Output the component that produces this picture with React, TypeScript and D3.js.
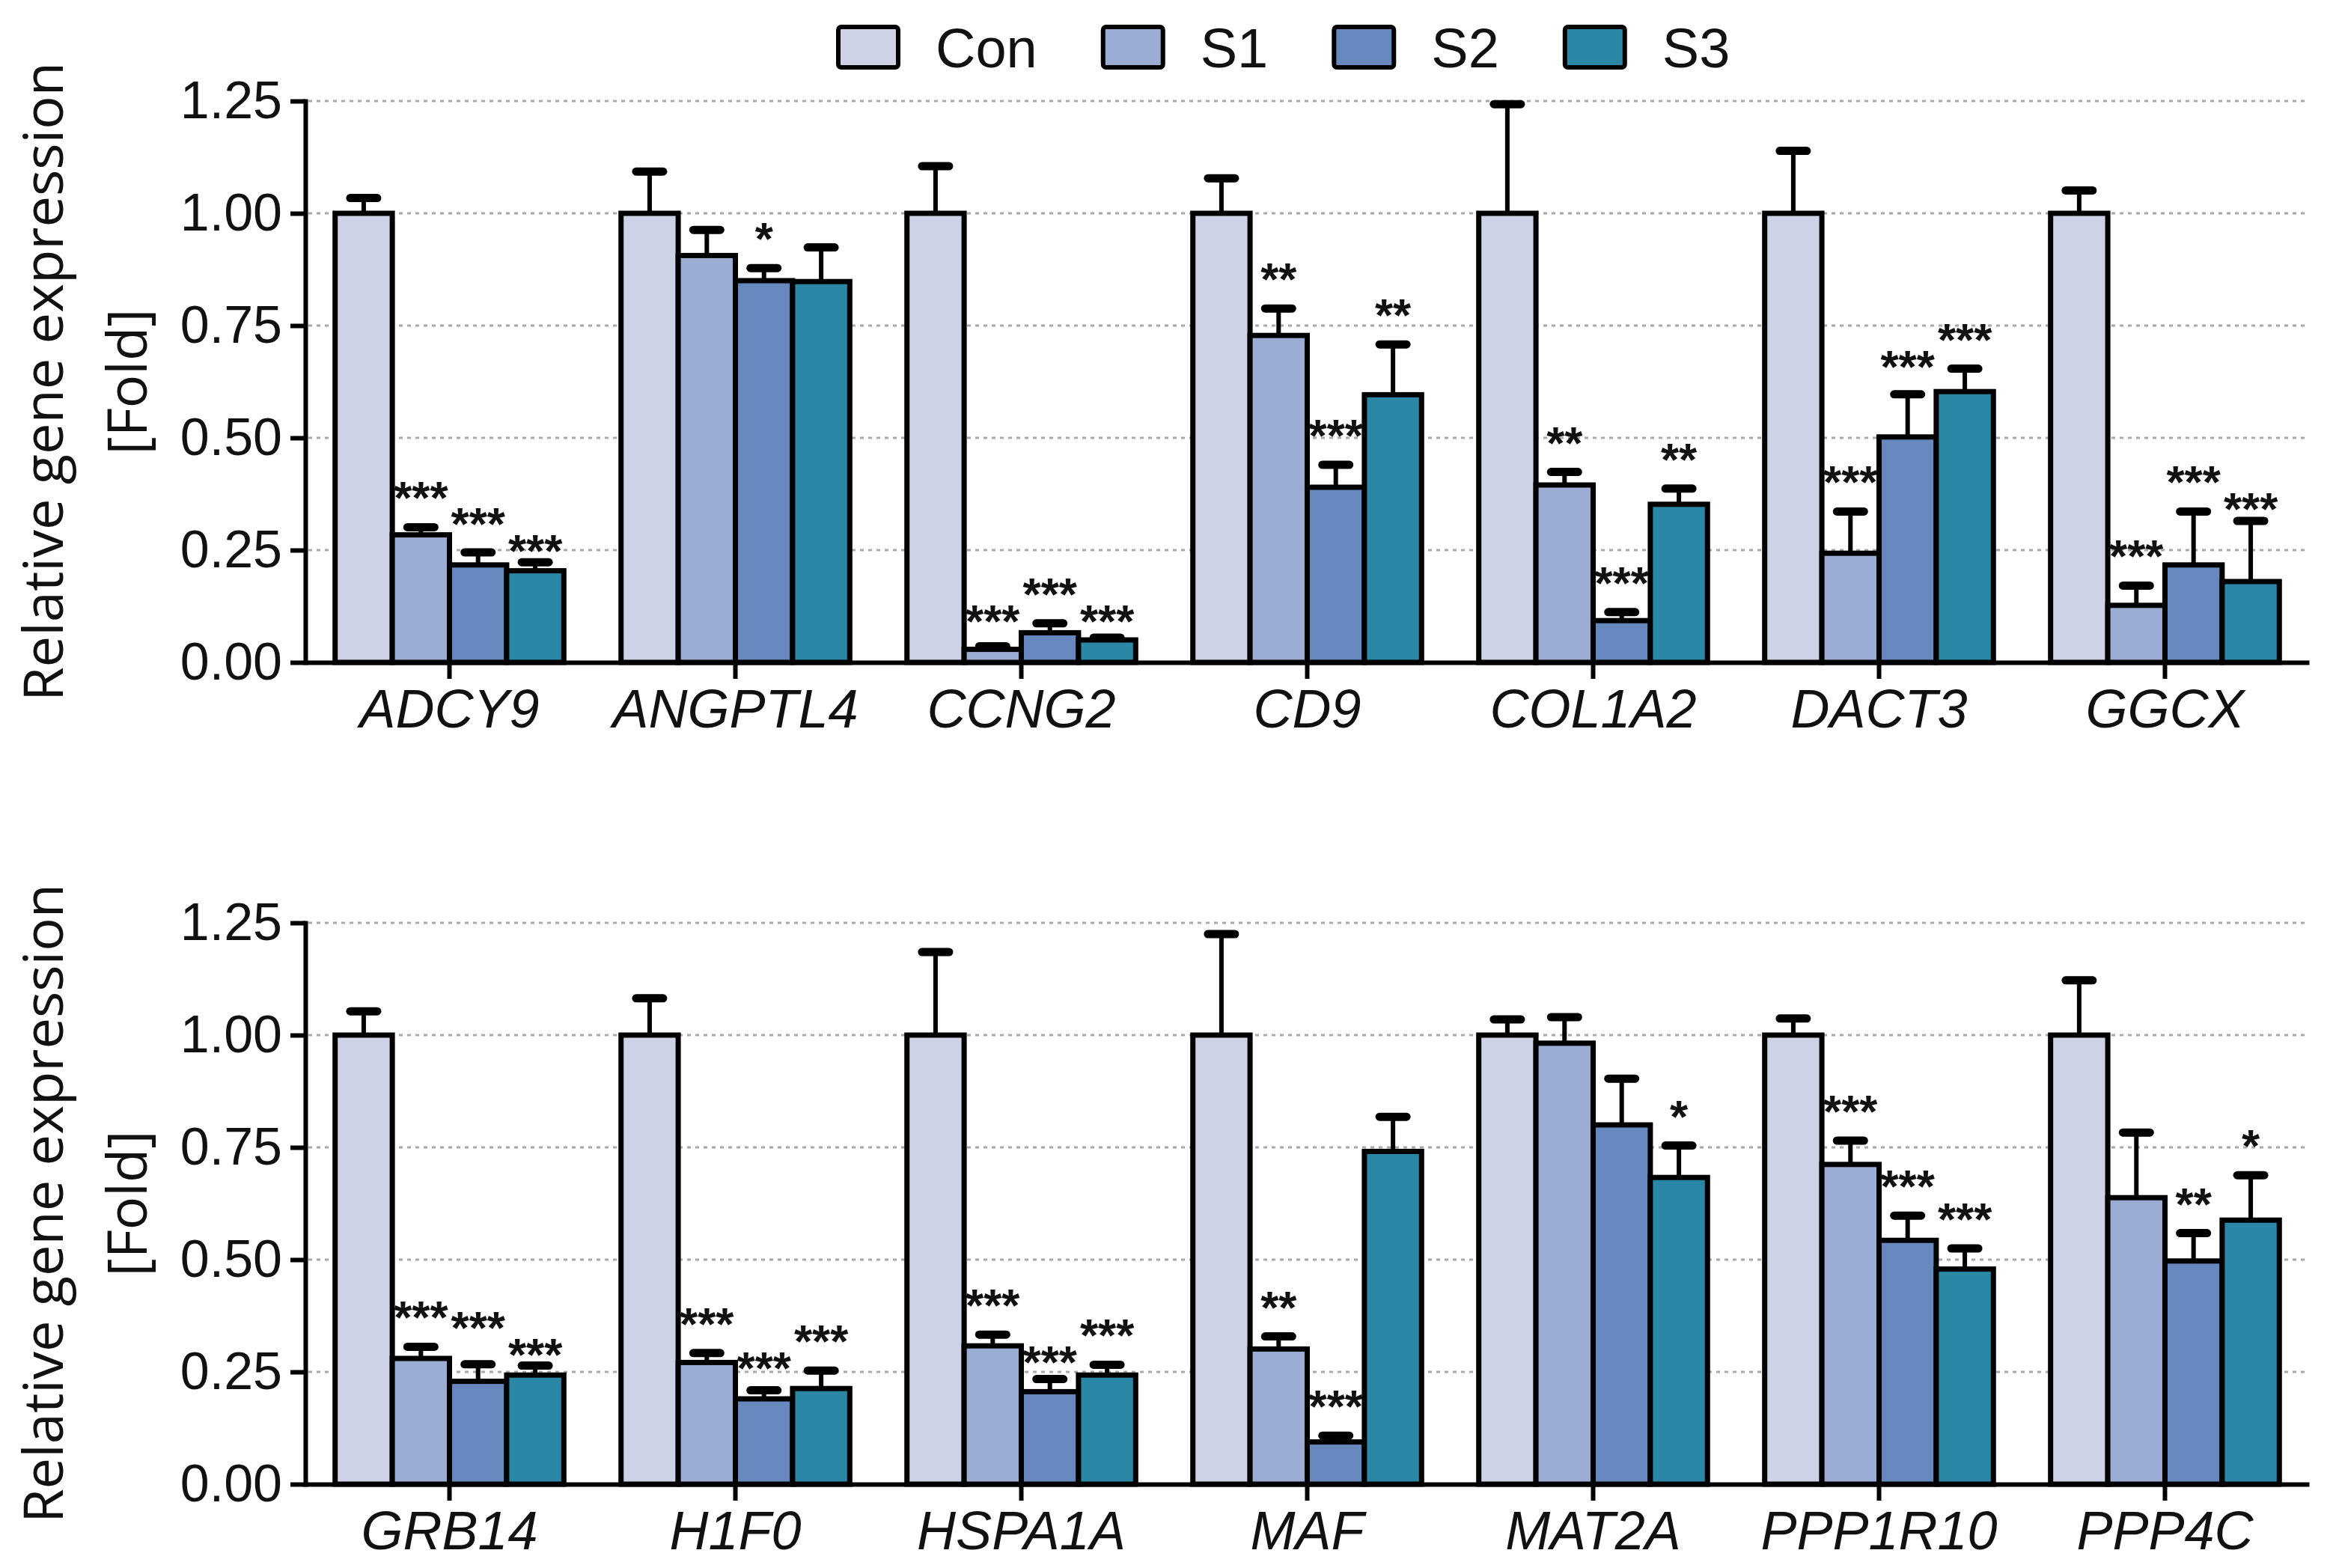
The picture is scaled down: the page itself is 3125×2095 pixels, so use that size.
import { useEffect, useRef } from 'react';
import * as d3 from 'd3';

const series = ['Con', 'S1', 'S2', 'S3'];
const seriesColors = ['#cdd2e7', '#9badd3', '#6688bd', '#2a88a6'];
const yTicks = [0, 0.25, 0.5, 0.75, 1.0, 1.25];

// top panel
const topGenes = ['ADCY9', 'ANGPTL4', 'CCNG2', 'CD9', 'COL1A2', 'DACT3', 'GGCX'];
const topCon = [1.0, 1.0, 1.0, 1.0, 1.0, 1.0, 1.0];
const topS1 = [0.284, 0.906, 0.029, 0.728, 0.395, 0.243, 0.127];
const topS2 = [0.217, 0.85, 0.066, 0.39, 0.093, 0.502, 0.217];
const topS3 = [0.204, 0.848, 0.05, 0.596, 0.352, 0.603, 0.18];
const topConErr = [0.034, 0.093, 0.105, 0.078, 0.243, 0.139, 0.051];
const topS1Err = [0.017, 0.057, 0.007, 0.06, 0.029, 0.093, 0.044];
const topS2Err = [0.028, 0.028, 0.021, 0.05, 0.019, 0.095, 0.119];
const topS3Err = [0.019, 0.076, 0.005, 0.112, 0.035, 0.051, 0.135];
const topSig = [
  ['', '***', '***', '***'],
  ['', '', '*', ''],
  ['', '***', '***', '***'],
  ['', '**', '***', '**'],
  ['', '**', '***', '**'],
  ['', '***', '***', '***'],
  ['', '***', '***', '***'],
];

// bottom panel
const bottomGenes = ['GRB14', 'H1F0', 'HSPA1A', 'MAF', 'MAT2A', 'PPP1R10', 'PPP4C'];
const bottomCon = [1.0, 1.0, 1.0, 1.0, 1.0, 1.0, 1.0];
const bottomS1 = [0.28, 0.271, 0.308, 0.301, 0.982, 0.712, 0.638];
const bottomS2 = [0.229, 0.19, 0.206, 0.094, 0.8, 0.543, 0.497];
const bottomS3 = [0.243, 0.213, 0.243, 0.741, 0.683, 0.479, 0.588];
const bottomConErr = [0.053, 0.082, 0.185, 0.225, 0.035, 0.037, 0.122];
const bottomS1Err = [0.026, 0.021, 0.025, 0.028, 0.058, 0.053, 0.145];
const bottomS2Err = [0.038, 0.019, 0.028, 0.014, 0.103, 0.055, 0.062];
const bottomS3Err = [0.021, 0.04, 0.023, 0.077, 0.071, 0.046, 0.1];
const bottomSig = [
  ['', '***', '***', '***'],
  ['', '***', '***', '***'],
  ['', '***', '***', '***'],
  ['', '**', '***', ''],
  ['', '', '', '*'],
  ['', '***', '***', '***'],
  ['', '', '**', '*'],
];

const panels = [
  { genes: topGenes, means: [topCon, topS1, topS2, topS3], errs: [topConErr, topS1Err, topS2Err, topS3Err], sig: topSig, base: 885 },
  { genes: bottomGenes, means: [bottomCon, bottomS1, bottomS2, bottomS3], errs: [bottomConErr, bottomS1Err, bottomS2Err, bottomS3Err], sig: bottomSig, base: 1983 },
];

const SANS = '"Liberation Sans", Arial, sans-serif';

export default function App() {
  const ref = useRef<SVGSVGElement>(null);

  useEffect(() => {
    if (!ref.current) return;
    document.body.style.margin = '0';
    const W = 3125;
    const H = 2095;
    const svg = d3.select(ref.current);
    svg.selectAll('*').remove();
    svg.attr('width', W).attr('height', H);
    svg.append('rect').attr('width', W).attr('height', H).attr('fill', '#ffffff');

    const axisLeftX = 408;
    const axisRightX = 3085;

    panels.forEach((p) => {
      const y = d3.scaleLinear().domain([0, 1.25]).range([p.base, p.base - 750]);
      const x = d3.scaleBand().domain(p.genes).range([axisLeftX, axisRightX])
        .paddingInner(0.2).paddingOuter(0.104);
      const xs = d3.scaleBand().domain(series).range([0, x.bandwidth()]);
      const g = svg.append('g');

      // dotted grid lines
      g.append('g')
        .selectAll('line')
        .data(yTicks.filter((t) => t > 0))
        .join('line')
        .attr('x1', axisLeftX + 4)
        .attr('x2', axisRightX)
        .attr('y1', (d) => y(d))
        .attr('y2', (d) => y(d))
        .attr('stroke', '#a8a8a8')
        .attr('stroke-width', 3)
        .attr('stroke-dasharray', '5 6');

      // bars, error bars and stars
      p.genes.forEach((gene, gi) => {
        // star heights sit above the cap; when two neighbours collide,
        // the one with the lower cap is pushed down
        const caps = series.map((_, si) => p.means[si][gi] + p.errs[si][gi]);
        const heights = caps.map((c) => c + 0.09);
        for (let i = 1; i < series.length; i++) {
          if (!p.sig[gi][i] || !p.sig[gi][i - 1]) continue;
          if (Math.abs(heights[i] - heights[i - 1]) < 0.06) {
            const lo = caps[i] < caps[i - 1] ? i : i - 1;
            const hi = lo === i ? i - 1 : i;
            heights[lo] = Math.max(caps[lo] + 0.05, heights[hi] - 0.06);
            if (heights[hi] - heights[lo] < 0.06) heights[hi] = heights[lo] + 0.06;
          }
        }

        series.forEach((s, si) => {
          const m = p.means[si][gi];
          const e = p.errs[si][gi];
          const bx = x(gene)! + xs(s)!;
          const cx = bx + xs.bandwidth() / 2;
          g.append('line')
            .attr('x1', cx).attr('x2', cx)
            .attr('y1', y(m)).attr('y2', y(m + e))
            .attr('stroke', '#000').attr('stroke-width', 6);
          g.append('line')
            .attr('x1', cx - 18).attr('x2', cx + 18)
            .attr('y1', y(m + e)).attr('y2', y(m + e))
            .attr('stroke', '#000').attr('stroke-width', 11)
            .attr('stroke-linecap', 'round');
          g.append('rect')
            .attr('x', bx)
            .attr('y', y(m))
            .attr('width', xs.bandwidth())
            .attr('height', y(0) - y(m))
            .attr('fill', seriesColors[si])
            .attr('stroke', '#000')
            .attr('stroke-width', 7);
          const star = p.sig[gi][si];
          if (star) {
            const size = 62;
            g.append('text')
              .attr('x', cx)
              .attr('y', y(heights[si]) + size * 0.58)
              .attr('text-anchor', 'middle')
              .style('font-family', SANS)
              .style('font-weight', 'bold')
              .style('font-size', `${size}px`)
              .style('fill', '#111')
              .text(star);
          }
        });
      });

      // y axis
      const ya = g.append('g')
        .attr('transform', `translate(${axisLeftX},0)`)
        .call(d3.axisLeft(y).tickValues(yTicks).tickFormat(d3.format('.2f')).tickSize(20).tickSizeOuter(0).tickPadding(11));
      ya.select('.domain').attr('stroke-width', 6).attr('stroke-linecap', 'square');
      ya.selectAll('.tick line').attr('stroke-width', 6);
      ya.selectAll('.tick text')
        .style('font-family', SANS)
        .style('font-size', '70px')
        .style('fill', '#111');

      // x axis
      const xa = g.append('g')
        .attr('transform', `translate(0,${p.base})`)
        .call(d3.axisBottom(x).tickSize(22).tickSizeOuter(0));
      xa.select('.domain').attr('stroke-width', 6);
      xa.selectAll('.tick line').attr('stroke-width', 6);
      xa.selectAll('.tick text')
        .attr('y', 87)
        .attr('dy', 0)
        .style('font-family', SANS)
        .style('font-style', 'italic')
        .style('font-size', '72px')
        .style('fill', '#111');

      // y label
      const midY = (y(0) + y(1.25)) / 2;
      g.append('text')
        .attr('transform', `translate(84,${midY}) rotate(-90)`)
        .attr('text-anchor', 'middle')
        .style('font-family', '"Open Sans", sans-serif')
        .style('font-size', '74px')
        .style('fill', '#111')
        .text('Relative gene expression');
      g.append('text')
        .attr('transform', `translate(196,${midY}) rotate(-90)`)
        .attr('text-anchor', 'middle')
        .style('font-family', '"Open Sans", sans-serif')
        .style('font-size', '74px')
        .style('fill', '#111')
        .text('[Fold]');
    });

    // legend
    const legend = svg.append('g');
    let lx = 1120;
    series.forEach((s, i) => {
      legend.append('rect')
        .attr('x', lx).attr('y', 36)
        .attr('width', 80).attr('height', 54)
        .attr('rx', 4)
        .attr('fill', seriesColors[i])
        .attr('stroke', '#000')
        .attr('stroke-width', 6);
      const t = legend.append('text')
        .attr('x', lx + 130)
        .attr('y', 63)
        .attr('dy', '0.36em')
        .style('font-family', SANS)
        .style('font-size', '74px')
        .style('fill', '#111')
        .text(s);
      const w = (t.node() as SVGTextElement).getComputedTextLength();
      lx = lx + 130 + w + 88;
    });
  }, []);

  return <svg ref={ref}></svg>;
}
